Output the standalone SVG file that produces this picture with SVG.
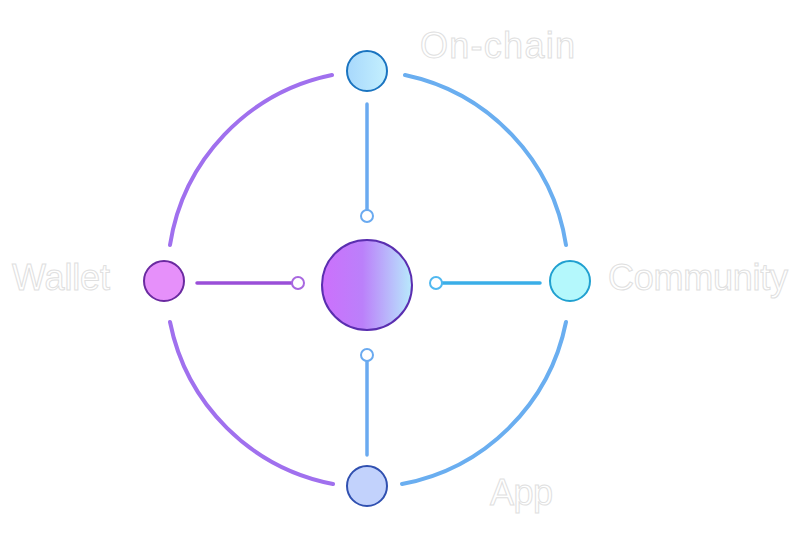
<svg xmlns="http://www.w3.org/2000/svg" width="800" height="549" viewBox="0 0 800 549">
<style>
.lbl{font-family:"Liberation Sans",Arial,sans-serif;font-size:36px;fill:#fff;stroke:#e0e0e0;stroke-width:1}
.arc{fill:none;stroke-width:4;stroke-linecap:round}
.sp{stroke-width:3.5;stroke-linecap:round}
.tip{fill:#fff;stroke-width:2}
</style>
<defs>
<linearGradient id="cg" x1="0" x2="1"><stop offset="0" stop-color="#cc70fc"/><stop offset="0.45" stop-color="#bb80fa"/><stop offset="1" stop-color="#b8eafc"/></linearGradient>
<linearGradient id="tg" x1="0" x2="1"><stop offset="0" stop-color="#a8d8fc"/><stop offset="1" stop-color="#c4f0fe"/></linearGradient>
</defs>
<g id="connectors">
<path class="arc" stroke="#a070ee" d="M332 75 A206 206 0 0 0 170 245"/>
<path class="arc" stroke="#a070ee" d="M170 322 A206 206 0 0 0 333 484"/>
<path class="arc" stroke="#6aaef0" d="M405 75 A206 206 0 0 1 566 245"/>
<path class="arc" stroke="#6aaef0" d="M566 322 A206 206 0 0 1 402 484"/>
<line class="sp" stroke="#6aaaf0" x1="367" y1="104" x2="367" y2="210"/>
<circle class="tip" stroke="#6aaaf0" cx="367" cy="216" r="6"/>
<line class="sp" stroke="#6aaaf0" x1="367" y1="361" x2="367" y2="455"/>
<circle class="tip" stroke="#6aaaf0" cx="367" cy="355" r="6"/>
<line class="sp" stroke="#9a4fd8" x1="197" y1="283" x2="292" y2="283"/>
<circle class="tip" stroke="#a868e0" cx="298" cy="283" r="6"/>
<line class="sp" stroke="#3aaee8" x1="442" y1="283" x2="540" y2="283"/>
<circle class="tip" stroke="#50b8f0" cx="436" cy="283" r="6"/>
</g>
<g id="center"><circle cx="367" cy="285" r="45" fill="url(#cg)" stroke="#5a2eb0" stroke-width="2"/></g>
<g id="onchain"><circle cx="367" cy="71" r="20" fill="url(#tg)" stroke="#1a74c0" stroke-width="2"/><text class="lbl" x="420" y="58" textLength="155">On-chain</text></g>
<g id="wallet"><circle cx="164" cy="281" r="20" fill="#e690fa" stroke="#6a2aa0" stroke-width="2"/><text class="lbl" x="12" y="290" textLength="98">Wallet</text></g>
<g id="community"><circle cx="570" cy="281" r="20" fill="#b4f8fc" stroke="#20a0d0" stroke-width="2"/><text class="lbl" x="608" y="290" textLength="180">Community</text></g>
<g id="app"><circle cx="367" cy="486" r="20" fill="#c2d2fc" stroke="#3050b0" stroke-width="2"/><text class="lbl" x="490" y="505" textLength="63">App</text></g>
</svg>
